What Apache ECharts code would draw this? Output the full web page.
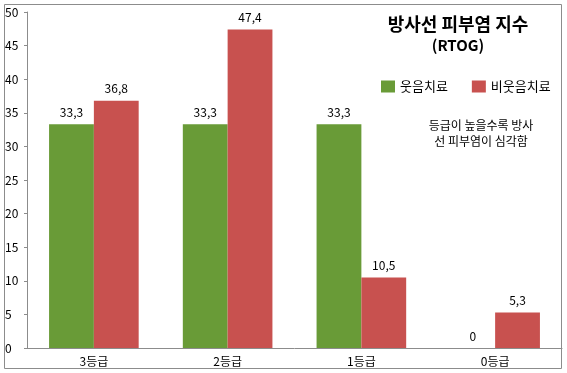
<!DOCTYPE html>
<html><head><meta charset="utf-8">
<script src="https://cdn.jsdelivr.net/npm/echarts@6/dist/echarts.min.js"></script>
<style>html,body{margin:0;padding:0;background:#fff}#c{width:567px;height:373px}</style>
</head><body><div id="c"></div>
<script>
const categories = ['3등급', '2등급', '1등급', '0등급'];
const laughTherapy = [33.3, 33.3, 33.3, 0];
const noLaughTherapy = [36.8, 47.4, 10.5, 5.3];
const seriesNames = ['웃음치료', '비웃음치료'];
const yTicks = { min: 0, max: 50, interval: 5 };

const FONT = '"Noto Sans CJK KR", "DejaVu Sans", sans-serif';
const fmt = p => String(p.value).replace('.', ',');

const chart = echarts.init(document.getElementById('c'));
chart.setOption({
  animation: false,
  backgroundColor: '#fff',
  textStyle: { fontFamily: FONT },
  title: [{
    text: '방사선 피부염 지수',
    left: 453, top: 10, textAlign: 'center',
    textStyle: { fontSize: 18, fontWeight: 'bold', color: '#000', fontFamily: FONT }
  }, {
    text: '(RTOG)',
    left: 453, top: 33, textAlign: 'center',
    textStyle: { fontSize: 15, fontWeight: 'bold', color: '#000', fontFamily: FONT }
  }, {
    text: '등급이 높을수록 방사\n선 피부염이 심각함',
    left: 476, top: 112, textAlign: 'center',
    textStyle: { fontSize: 12, fontWeight: 'normal', color: '#000', lineHeight: 16, fontFamily: FONT }
  }],
  legend: {
    data: seriesNames,
    left: 376, top: 75,
    itemWidth: 14, itemHeight: 12, itemGap: 24,
    icon: 'rect',
    textStyle: { fontSize: 13, color: '#000', fontFamily: FONT }
  },
  graphic: [{
    type: 'rect', shape: { x: 4.5, y: 4.5, width: 557, height: 364 },
    style: { fill: 'none', stroke: '#8c8c8c', lineWidth: 1 }, silent: true, z: -1
  }],
  grid: { left: 27, right: 5, top: 12, bottom: 25, containLabel: false },
  xAxis: {
    type: 'category', data: categories,
    axisLine: { lineStyle: { color: '#8c8c8c' } },
    axisTick: { show: false },
    axisLabel: { color: '#000', fontSize: 12, margin: 7, fontFamily: FONT }
  },
  yAxis: {
    type: 'value', min: yTicks.min, max: yTicks.max, interval: yTicks.interval,
    axisLine: { show: true, lineStyle: { color: '#8c8c8c' } },
    axisTick: { show: true, length: 3, lineStyle: { color: '#8c8c8c' } },
    splitLine: { show: false },
    axisLabel: { color: '#000', fontSize: 12, align: 'left', margin: 22, fontFamily: FONT }
  },
  series: [{
    name: seriesNames[0], type: 'bar', data: laughTherapy,
    itemStyle: { color: '#699b37' },
    barGap: '0%', barCategoryGap: '33%',
    label: { show: true, position: 'top', distance: 6, color: '#000', fontSize: 12, formatter: fmt, fontFamily: FONT }
  }, {
    name: seriesNames[1], type: 'bar', data: noLaughTherapy,
    itemStyle: { color: '#c8514f' },
    barGap: '0%', barCategoryGap: '33%',
    label: { show: true, position: 'top', distance: 6, color: '#000', fontSize: 12, formatter: fmt, fontFamily: FONT }
  }]
});
</script></body></html>
